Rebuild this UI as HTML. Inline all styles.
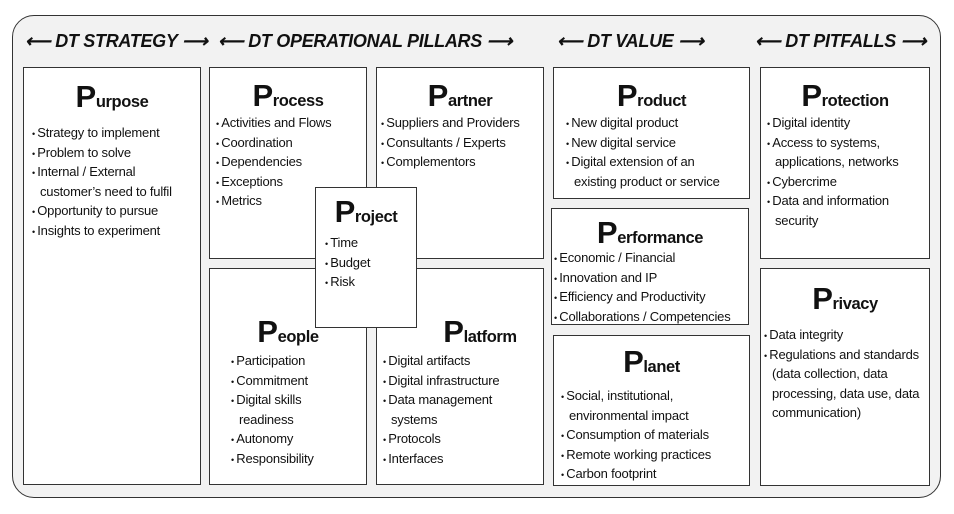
<!DOCTYPE html>
<html><head><meta charset="utf-8"><style>
body{margin:0;width:954px;height:514px;background:#fff;font-family:"Liberation Sans",Arial,sans-serif;position:relative;overflow:hidden}
.outer{position:absolute;left:12px;top:15px;width:927px;height:481px;border:1.5px solid #333;border-radius:22px;background:#f2f2f2}
.h{position:absolute;top:31px;font-size:18px;font-weight:bold;font-style:italic;color:#111;white-space:nowrap;letter-spacing:-0.3px}
.b{position:absolute;border:1.3px solid #333;background:#fff;box-sizing:border-box}
.t{text-align:center;font-weight:bold;font-size:16.5px;color:#111;white-space:nowrap;letter-spacing:-0.4px;line-height:34px;height:34px}
.t span{font-size:31px}
ul{list-style:none;margin:0;padding:0;font-size:13px;line-height:19.5px;color:#111;letter-spacing:-0.2px;white-space:nowrap}
li{padding-left:8px;text-indent:-8px;line-height:19.5px}
li:before{content:"• ";font-size:9px;line-height:0}
</style></head><body>
<div class="outer"></div>
<div class="h" style="left:25px">⟵ DT STRATEGY ⟶</div>
<div class="h" style="left:218px">⟵ DT OPERATIONAL PILLARS ⟶</div>
<div class="h" style="left:557px">⟵ DT VALUE ⟶</div>
<div class="h" style="left:755px">⟵ DT PITFALLS ⟶</div>

<div class="b" style="left:23px;top:67px;width:178px;height:418px">
<div class="t" style="margin-top:12px"><span>P</span>urpose</div>
<ul style="margin:9px 0 0 8px"><li>Strategy to implement</li><li>Problem to solve</li><li>Internal / External<br>customer’s need to fulfil</li><li>Opportunity to pursue</li><li>Insights to experiment</li></ul></div>

<div class="b" style="left:209px;top:67px;width:158px;height:192px">
<div class="t" style="margin-top:11px"><span>P</span>rocess</div>
<ul style="margin:0 0 0 6px"><li>Activities and Flows</li><li>Coordination</li><li>Dependencies</li><li>Exceptions</li><li>Metrics</li></ul></div>

<div class="b" style="left:376px;top:67px;width:168px;height:192px">
<div class="t" style="margin-top:11px"><span>P</span>artner</div>
<ul style="margin:0 0 0 4px"><li>Suppliers and Providers</li><li>Consultants / Experts</li><li>Complementors</li></ul></div>

<div class="b" style="left:209px;top:268px;width:158px;height:217px">
<div class="t" style="margin-top:46px"><span>P</span>eople</div>
<ul style="margin:2px 0 0 21px"><li>Participation</li><li>Commitment</li><li>Digital skills<br>readiness</li><li>Autonomy</li><li>Responsibility</li></ul></div>

<div class="b" style="left:376px;top:268px;width:168px;height:217px">
<div class="t" style="margin-top:46px;padding-left:40px"><span>P</span>latform</div>
<ul style="margin:2px 0 0 6px"><li>Digital artifacts</li><li>Digital infrastructure</li><li>Data management<br>systems</li><li>Protocols</li><li>Interfaces</li></ul></div>

<div class="b" style="left:315px;top:187px;width:102px;height:141px">
<div class="t" style="margin-top:7px"><span>P</span>roject</div>
<ul style="margin:4px 0 0 9px"><li>Time</li><li>Budget</li><li>Risk</li></ul></div>

<div class="b" style="left:553px;top:67px;width:197px;height:132px">
<div class="t" style="margin-top:11px"><span>P</span>roduct</div>
<ul style="margin:0 0 0 12px"><li>New digital product</li><li>New digital service</li><li>Digital extension of an<br>existing product or service</li></ul></div>

<div class="b" style="left:551px;top:208px;width:198px;height:117px">
<div class="t" style="margin-top:7px"><span>P</span>erformance</div>
<ul style="margin:-2px 0 0 2px"><li>Economic / Financial</li><li>Innovation and IP</li><li>Efficiency and Productivity</li><li>Collaborations / Competencies</li></ul></div>

<div class="b" style="left:553px;top:335px;width:197px;height:151px">
<div class="t" style="margin-top:9px"><span>P</span>lanet</div>
<ul style="margin:7px 0 0 7px"><li>Social, institutional,<br>environmental impact</li><li>Consumption of materials</li><li>Remote working practices</li><li>Carbon footprint</li></ul></div>

<div class="b" style="left:760px;top:67px;width:170px;height:192px">
<div class="t" style="margin-top:11px"><span>P</span>rotection</div>
<ul style="margin:0 0 0 6px"><li>Digital identity</li><li>Access to systems,<br>applications, networks</li><li>Cybercrime</li><li>Data and information<br>security</li></ul></div>

<div class="b" style="left:760px;top:268px;width:170px;height:218px">
<div class="t" style="margin-top:13px"><span>P</span>rivacy</div>
<ul style="margin:9px 0 0 3px"><li>Data integrity</li><li>Regulations and standards<br>(data collection, data<br>processing, data use, data<br>communication)</li></ul></div>
</body></html>
